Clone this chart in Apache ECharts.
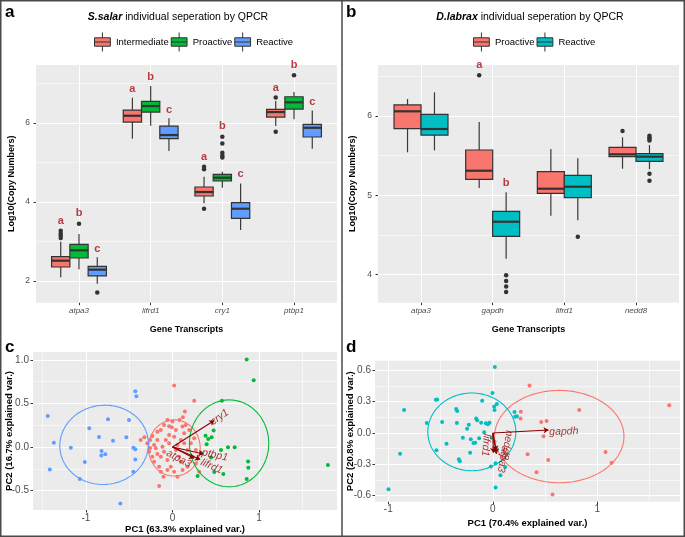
<!DOCTYPE html>
<html><head><meta charset="utf-8">
<script src="https://cdn.jsdelivr.net/npm/echarts@6/dist/echarts.min.js"></script>
<style>html,body{margin:0;padding:0;background:#fff}#c{width:685px;height:537px}</style>
</head><body><div id="c"></div>
<script>
// ---------- DATA ----------
const genesA = ['atpa3','lifrd1','cry1','ptbp1'];
const groupsA = ['Intermediate','Proactive','Reactive'];
// [geneIndex, lowerWhisker, Q1, median, Q3, upperWhisker]
const boxIntermediateA = [[0,2.094,2.354,2.514,2.615,2.995],[1,5.60,6.025,6.185,6.329,6.64],[2,3.967,4.152,4.253,4.38,4.64],[3,5.924,6.152,6.278,6.347,6.557]];
const boxProactiveA    = [[0,2.296,2.582,2.777,2.929,3.19],[1,5.93,6.278,6.43,6.549,6.937],[2,4.362,4.532,4.615,4.70,4.767],[3,6.094,6.354,6.524,6.666,6.785]];
const boxReactiveA     = [[0,1.93,2.127,2.286,2.372,2.6],[1,5.29,5.603,5.696,5.924,6.12],[2,3.29,3.587,3.83,3.982,4.47],[3,5.35,5.646,5.88,5.967,6.32]];
// outliers [geneIndex, value]
const outIntermediateA = [[0,3.09],[0,3.15],[0,3.2],[0,3.27],[2,4.83],[2,4.89],[2,3.83],[3,6.65],[3,5.78]];
const outProactiveA    = [[0,3.45],[2,5.13],[2,5.18],[2,5.25],[2,5.48],[2,5.65],[3,7.21]];
const outReactiveA     = [[0,1.71]];
// significance letters [geneIndex, groupIndex, value, letter]
const lettersA = [[0,0,3.52,'a'],[0,1,3.73,'b'],[0,2,2.81,'c'],[1,0,6.87,'a'],[1,1,7.17,'b'],[1,2,6.32,'c'],
                  [2,0,5.13,'a'],[2,1,5.92,'b'],[2,2,4.70,'c'],[3,0,6.90,'a'],[3,1,7.47,'b'],[3,2,6.54,'c']];
const yTicksA = [2,4,6];
const yMinorA = [3,5,7];

const genesB = ['atpa3','gapdh','lifrd1','nedd8'];
const groupsB = ['Proactive','Reactive'];
const boxProactiveB = [[0,5.542,5.84,6.059,6.139,6.214],[1,5.092,5.202,5.31,5.571,5.924],[2,4.743,5.025,5.083,5.298,5.584],[3,5.335,5.487,5.517,5.605,5.731]];
const boxReactiveB  = [[0,5.567,5.76,5.836,6.021,6.299],[1,4.20,4.483,4.667,4.798,5.038],[2,4.685,4.97,5.108,5.252,5.467],[3,5.328,5.429,5.487,5.525,5.634]];
const outProactiveB = [[1,6.513],[3,5.811]];
const outReactiveB  = [[1,3.991],[1,3.92],[1,3.85],[1,3.78],[2,4.478],[3,5.752],[3,5.73],[3,5.71],[3,5.69],[3,5.272],[3,5.184]];
const lettersB = [[1,0,6.647,'a'],[1,1,5.151,'b']];
const yTicksB = [4,5,6];
const yMinorB = [4.5,5.5,6.5];

// PCA panel c (S.salar)
const pcaIntermediateC = [[0.019,0.705],[0.251,0.529],[0.143,0.406],[0.12,0.341],[0.081,0.31],[-0.097,0.253],[-0.039,0.238],[-0.008,0.226],
  [-0.135,0.195],[-0.174,0.176],[-0.232,0.126],[-0.259,0.08],[-0.324,0.111],[-0.367,0.08],[-0.212,0.023],[-0.259,-0.011],[-0.27,-0.054],
  [-0.174,-0.08],[-0.135,-0.111],[-0.212,-0.169],[-0.154,-0.226],[-0.058,-0.149],[-0.019,-0.226],[0.019,-0.284],[0.058,-0.341],
  [-0.154,-0.448],[-0.104,-0.341],[0.097,0.08],[0.135,0.157],[0.154,0.253],[0.193,0.195],[0.212,0.042],[0.232,-0.111],[0.27,-0.188],
  [0.174,-0.226],[0.097,-0.169],[-0.077,0.08],[-0.039,0.138],[0.039,0.195],[-0.116,0.004],[-0.097,-0.054],[0.039,-0.034],[0.077,-0.111],
  [0.174,-0.034],[0.251,0.1],[-0.174,0.08],[-0.058,0.31],[0,0.291],[0.116,0.234],[-0.232,-0.111],[0.309,-0.284],[0.27,-0.034],
  [0.135,0.042],[-0.29,0.042],[0.019,0.119],[-0.039,0.042],[0.058,0.023],[-0.193,-0.015],[-0.058,-0.264],[0.116,-0.264],[-0.135,-0.284]];
const pcaProactiveC = [[0.857,1.004],[0.938,0.766],[0.571,0.529],[0.475,0.188],[0.382,0.13],[0.413,0.092],[0.452,0.111],[0.394,0.031],
  [0.641,-0.004],[0.718,-0.004],[0.56,-0.034],[0.444,-0.119],[0.483,-0.287],[0.587,-0.31],[0.873,-0.165],[0.876,-0.238],[0.857,-0.368],
  [1.795,-0.207],[0.328,-0.07],[0.29,-0.333]];
const pcaReactiveC = [[-1.44,0.356],[-1.37,0.05],[-1.417,-0.257],[-1.174,-0.008],[-1.012,-0.172],[-1.07,-0.368],[-0.961,0.215],[-0.849,0.115],
  [-0.745,0.318],[-0.819,-0.046],[-0.822,-0.096],[-0.776,-0.084],[-0.687,0.073],[-0.533,0.111],[-0.502,0.31],[-0.429,0.64],[-0.417,0.582],
  [-0.452,-0.008],[-0.429,-0.027],[-0.429,-0.142],[-0.452,-0.284],[-0.602,-0.648]];
// ellipses [cx, cy, rx, ry, angleDeg]
const ellipsesC = {Intermediate:[0.021,-0.011,0.299,0.322,0], Proactive:[0.654,0.042,0.458,0.498,0], Reactive:[-0.79,0.025,0.512,0.454,6]};
// loadings [name, x, y]
const arrowsC = [['cry1',0.483,0.303],['ptbp1',0.359,-0.08],['lifrd1',0.32,-0.142],['atpa3',0.251,-0.13]];
const arrowLabelC = [['cry1',0.544,0.341,35],['ptbp1',0.49,-0.092,-12],['lifrd1',0.452,-0.222,-24],['atpa3',0.073,-0.134,-28]];
const xTicksC = [-1,0,1], xMinorC = [-1.5,-0.5,0.5,1.5];
const yTicksC = [-0.5,0,0.5,1.0], yMinorC = [-0.25,0.25,0.75];

// PCA panel d (D.labrax)
const pcaReactiveD = [[0.019,0.632],[-0.003,0.383],[-0.102,0.31],[0.013,0.255],[0.038,0.278],[0.016,0.22],[-0.533,0.322],[-0.545,0.319],
  [-0.849,0.22],[-0.351,0.23],[-0.341,0.211],[-0.485,0.105],[-0.632,0.096],[-0.344,0.096],[-0.23,0.08],[-0.16,0.14],[-0.15,0.121],
  [-0.112,0.099],[-0.067,0.093],[-0.048,0.083],[-0.032,0.099],[-0.246,0.041],[-0.083,0.006],[-0.287,-0.045],[-0.443,-0.102],
  [-0.211,-0.061],[-0.185,-0.096],[-0.169,-0.093],[-0.131,-0.051],[-0.217,-0.188],[-0.539,-0.166],[-0.887,-0.198],[-0.325,-0.252],
  [-0.316,-0.271],[-0.998,-0.539],[-0.01,-0.045],[0.016,-0.083],[0.038,-0.156],[-0.019,-0.322],[0.026,-0.29],[0.073,-0.405],
  [0.026,-0.523],[0.118,-0.326],[0.207,0.201],[0.214,0.156],[0.23,0.16]];
const pcaProactiveD = [[0.351,0.456],[0.268,0.204],[0.265,0.14],[0.463,0.105],[0.514,0.115],[0.826,0.22],[1.687,0.265],[0.485,-0.032],
  [0.332,-0.204],[0.53,-0.259],[0.418,-0.377],[0.571,-0.59],[1.078,-0.182],[1.136,-0.284]];
const ellipsesD = {Proactive:[0.635,-0.034,0.619,0.442,0], Reactive:[-0.201,0.011,0.421,0.372,0]};
const arrowsD = [['gapdh',0.533,0.029],['lifrd1',0.005,-0.19],['nedd8',0.03,-0.17],['atpa3',0.035,-0.2]];
const arrowLabelD = [['gapdh',0.679,0.013,2],['lifrd1',-0.067,-0.115,-95],['nedd8',0.134,-0.115,-100],['atpa3',0.096,-0.252,-100]];
const xTicksD = [-1,0,1], xMinorD = [-0.5,0.5,1.5];
const yTicksD = [-0.6,-0.3,0,0.3,0.6], yMinorD = [-0.45,-0.15,0.15,0.45];

// ---------- STYLE ----------
const FONT = '"Liberation Sans", Arial, Helvetica, sans-serif';
const colA = ['#F8766D','#00BA38','#619CFF'];
const colB = ['#F8766D','#00BFC4'];
const DARKRED = '#8B0000';
const LETTER = '#a50f15';
const BOXICON = 'path://M1,5H16V13H1Z M8.5,0V5 M8.5,13V18 M1,9H16';

function boxSeries(name, data, color, offset, width, xi, yi) {
  return {type:'custom', name, xAxisIndex:xi, yAxisIndex:yi, data, itemStyle:{color}, z:3, silent:true,
    renderItem:(params, api) => {
      const g = api.value(0) + offset;
      const lo = api.value(1), q1 = api.value(2), md = api.value(3), q3 = api.value(4), hi = api.value(5);
      const tl = api.coord([g - width/2, q3]), br = api.coord([g + width/2, q1]);
      const ph = api.coord([g, hi]), pl = api.coord([g, lo]), pm = api.coord([g, md]);
      const st = {stroke:'#3a3a3a', lineWidth:1.2};
      return {type:'group', children:[
        {type:'line', shape:{x1:ph[0], y1:ph[1], x2:ph[0], y2:tl[1]}, style:st},
        {type:'line', shape:{x1:pl[0], y1:pl[1], x2:pl[0], y2:br[1]}, style:st},
        {type:'rect', shape:{x:tl[0], y:tl[1], width:br[0]-tl[0], height:br[1]-tl[1]}, style:{fill:color, stroke:'#333', lineWidth:1.2}},
        {type:'line', shape:{x1:tl[0], y1:pm[1], x2:br[0], y2:pm[1]}, style:{stroke:'#333', lineWidth:2.2}}
      ]};
    }};
}
function outlierSeries(data, offset, xi, yi) {
  return {type:'scatter', xAxisIndex:xi, yAxisIndex:yi, data:data.map(d => [d[0] + offset, d[1]]),
    symbolSize:4.5, itemStyle:{color:'#333', opacity:1}, z:4, silent:true};
}
function letterSeries(data, offsets, xi, yi) {
  return {type:'scatter', xAxisIndex:xi, yAxisIndex:yi, clip:false, silent:true, z:6,
    data:data.map(d => [d[0] + offsets[d[1]], d[2], d[3]]), symbolSize:0.1, itemStyle:{color:'transparent'},
    label:{show:true, position:'inside', formatter:p => p.data[2], color:LETTER, fontWeight:'bold', fontSize:11, fontFamily:FONT}};
}
function pointSeries(data, color, xi, yi) {
  return {type:'scatter', xAxisIndex:xi, yAxisIndex:yi, data, symbolSize:4, itemStyle:{color, opacity:1}, z:3, silent:true};
}
function ellipseSeries(e, color, xi, yi) {
  return {type:'custom', xAxisIndex:xi, yAxisIndex:yi, data:[e], z:4, silent:true, clip:false,
    renderItem:(params, api) => {
      const c = api.coord([api.value(0), api.value(1)]);
      const s = api.size([api.value(2), api.value(3)]);
      const a = api.value(4) * Math.PI / 180;
      const pts = [];
      for (let i = 0; i <= 120; i++) {
        const t = i / 120 * 2 * Math.PI;
        const ex = s[0] * Math.cos(t), ey = s[1] * Math.sin(t);
        pts.push([c[0] + ex*Math.cos(a) - ey*Math.sin(a), c[1] - (ex*Math.sin(a) + ey*Math.cos(a))]);
      }
      return {type:'polyline', shape:{points:pts}, style:{stroke:color, fill:'none', lineWidth:1.1}};
    }};
}
function arrowSeries(arrows, xi, yi) {
  return {type:'lines', coordinateSystem:'cartesian2d', xAxisIndex:xi, yAxisIndex:yi, silent:true, z:5,
    data:arrows.map(a => ({coords:[[0,0],[a[1],a[2]]]})), symbol:['none','arrow'], symbolSize:5,
    lineStyle:{color:DARKRED, width:1.1, opacity:1, curveness:0}};
}
function arrowLabelSeries(labels, xi, yi) {
  return labels.map(l => ({type:'scatter', xAxisIndex:xi, yAxisIndex:yi, silent:true, clip:false, z:6,
    data:[[l[1], l[2]]], symbolSize:0.1, itemStyle:{color:'transparent'},
    label:{show:true, position:'inside', formatter:l[0], rotate:l[3], color:DARKRED, fontStyle:'italic', fontSize:10.5, fontFamily:FONT}}));
}

function mainAxis(gi, min, max, ticks, fmt, opts) {
  return Object.assign({type:'value', gridIndex:gi, min, max,
    axisLine:{show:false, onZero:false},
    axisTick:{show:true, length:2.5, lineStyle:{color:'#333', width:1}, customValues:ticks},
    axisLabel:{show:true, customValues:ticks, formatter:fmt, color:'#4D4D4D', fontSize:8.5, fontFamily:FONT, margin:6},
    splitLine:{show:true, lineStyle:{color:'#ffffff', width:1.1}},
    nameMoveOverlap:false,
    nameLocation:'middle', nameTextStyle:{fontWeight:'bold', fontSize:9, fontFamily:FONT, color:'#000'}}, opts || {});
}
function minorAxis(gi, min, max, ticks, pos) {
  return {type:'value', gridIndex:gi, min, max, position:pos,
    axisLine:{show:false, onZero:false}, axisTick:{show:false, customValues:ticks}, axisLabel:{show:false, customValues:ticks},
    splitLine:{show:true, lineStyle:{color:'#ffffff', width:0.55}}};
}
const gridBox = {show:true, backgroundColor:'#EBEBEB', borderWidth:0, containLabel:false, outerBoundsMode:'none'};

const offA = [-0.255, 0, 0.255];
const offB = [-0.188, 0.188];

const xFmt = genes => (v => genes[Math.round(v)]);
const f1 = v => v.toFixed(1);
const f0 = v => String(Math.round(v));

const option = {
  animation:false,
  backgroundColor:'#ffffff',
  grid:[
    Object.assign({left:36, top:65, width:301, height:237.7}, gridBox),
    Object.assign({left:378, top:65, width:301, height:237.7}, gridBox),
    Object.assign({left:33, top:352, width:304, height:158}, gridBox),
    Object.assign({left:375, top:360.7, width:305, height:141}, gridBox)
  ],
  xAxis:[
    mainAxis(0, -0.6, 3.6, [0,1,2,3], xFmt(genesA), {name:'Gene Transcripts', nameGap:22,
      axisLabel:{customValues:[0,1,2,3], formatter:xFmt(genesA), color:'#4D4D4D', fontSize:8, fontStyle:'italic', fontFamily:FONT, margin:4}}),
    mainAxis(1, -0.6, 3.6, [0,1,2,3], xFmt(genesB), {name:'Gene Transcripts', nameGap:22,
      axisLabel:{customValues:[0,1,2,3], formatter:xFmt(genesB), color:'#4D4D4D', fontSize:8, fontStyle:'italic', fontFamily:FONT, margin:4}}),
    mainAxis(2, -1.611, 1.90, xTicksC, f0, {name:'PC1 (63.3% explained var.)', nameGap:14,
      axisLabel:{customValues:xTicksC, formatter:f0, color:'#4D4D4D', fontSize:10, fontFamily:FONT, margin:3},
      nameTextStyle:{fontWeight:'bold', fontSize:9.5, fontFamily:FONT, color:'#000'}}),
    minorAxis(2, -1.611, 1.90, xMinorC, 'top'),
    mainAxis(3, -1.127, 1.79, xTicksD, f0, {name:'PC1 (70.4% explained var.)', nameGap:17,
      axisLabel:{customValues:xTicksD, formatter:f0, color:'#4D4D4D', fontSize:10, fontFamily:FONT, margin:3},
      nameTextStyle:{fontWeight:'bold', fontSize:9.5, fontFamily:FONT, color:'#000'}}),
    minorAxis(3, -1.127, 1.79, xMinorD, 'top')
  ],
  yAxis:[
    mainAxis(0, 1.45, 7.47, yTicksA, f0, {name:'Log10(Copy Numbers)', nameGap:20}),
    minorAxis(0, 1.45, 7.47, yMinorA, 'right'),
    mainAxis(1, 3.646, 6.643, yTicksB, f0, {name:'Log10(Copy Numbers)', nameGap:21}),
    minorAxis(1, 3.646, 6.643, yMinorB, 'right'),
    mainAxis(2, -0.722, 1.089, yTicksC, f1, {name:'PC2 (16.7% explained var.)', nameGap:19,
      axisLabel:{customValues:yTicksC, formatter:f1, color:'#4D4D4D', fontSize:10, fontFamily:FONT, margin:4},
      nameTextStyle:{fontWeight:'bold', fontSize:9.5, fontFamily:FONT, color:'#000'}}),
    minorAxis(2, -0.722, 1.089, yMinorC, 'right'),
    mainAxis(3, -0.658, 0.6925, yTicksD, f1, {name:'PC2 (20.8% explained var.)', nameGap:20,
      axisLabel:{customValues:yTicksD, formatter:f1, color:'#4D4D4D', fontSize:10, fontFamily:FONT, margin:4},
      nameTextStyle:{fontWeight:'bold', fontSize:9.5, fontFamily:FONT, color:'#000'}}),
    minorAxis(3, -0.658, 0.6925, yMinorD, 'right')
  ],
  legend:[
    {left:94, top:32, itemWidth:17, itemHeight:19, itemGap:2, padding:0, selectedMode:false,
     data:groupsA.map((n,i) => ({name:n, icon:BOXICON, itemStyle:{color:colA[i], borderColor:'#333', borderWidth:1}})),
     textStyle:{fontSize:9.5, color:'#000', fontFamily:FONT}},
    {left:473, top:32, itemWidth:17, itemHeight:19, itemGap:2, padding:0, selectedMode:false,
     data:groupsB.map((n,i) => ({name:n, icon:BOXICON, itemStyle:{color:colB[i], borderColor:'#333', borderWidth:1}})),
     textStyle:{fontSize:9.5, color:'#000', fontFamily:FONT}}
  ],
  graphic:[
    {type:'rect', shape:{x:0.75, y:0.75, width:683.5, height:535.5}, style:{fill:'none', stroke:'#4a4a4a', lineWidth:1.5}, silent:true},
    {type:'line', shape:{x1:342, y1:0, x2:342, y2:537}, style:{stroke:'#4a4a4a', lineWidth:1.5}, silent:true},
    {type:'text', x:178, y:17, silent:true, style:{text:'{bi|S.salar} individual seperation by QPCR', align:'center', verticalAlign:'middle',
      fontSize:10.5, fontFamily:FONT, fill:'#000', rich:{bi:{fontWeight:'bold', fontStyle:'italic', fontSize:10.5, fontFamily:FONT, fill:'#000'}}}},
    {type:'text', x:530, y:17, silent:true, style:{text:'{bi|D.labrax} individual seperation by QPCR', align:'center', verticalAlign:'middle',
      fontSize:10.5, fontFamily:FONT, fill:'#000', rich:{bi:{fontWeight:'bold', fontStyle:'italic', fontSize:10.5, fontFamily:FONT, fill:'#000'}}}},
    {type:'text', x:5, y:12, silent:true, style:{text:'a', align:'left', verticalAlign:'middle', fontSize:17, fontWeight:'bold', fontFamily:FONT, fill:'#000'}},
    {type:'text', x:346, y:12, silent:true, style:{text:'b', align:'left', verticalAlign:'middle', fontSize:17, fontWeight:'bold', fontFamily:FONT, fill:'#000'}},
    {type:'text', x:5, y:347, silent:true, style:{text:'c', align:'left', verticalAlign:'middle', fontSize:17, fontWeight:'bold', fontFamily:FONT, fill:'#000'}},
    {type:'text', x:346, y:347, silent:true, style:{text:'d', align:'left', verticalAlign:'middle', fontSize:17, fontWeight:'bold', fontFamily:FONT, fill:'#000'}}
  ],
  series:[
    // panel a
    boxSeries('Intermediate', boxIntermediateA, colA[0], offA[0], 0.255, 0, 0),
    boxSeries('Proactive', boxProactiveA, colA[1], offA[1], 0.255, 0, 0),
    boxSeries('Reactive', boxReactiveA, colA[2], offA[2], 0.255, 0, 0),
    outlierSeries(outIntermediateA, offA[0], 0, 0),
    outlierSeries(outProactiveA, offA[1], 0, 0),
    outlierSeries(outReactiveA, offA[2], 0, 0),
    letterSeries(lettersA, offA, 0, 0),
    // panel b
    boxSeries('Proactive', boxProactiveB, colB[0], offB[0], 0.377, 1, 2),
    boxSeries('Reactive', boxReactiveB, colB[1], offB[1], 0.377, 1, 2),
    outlierSeries(outProactiveB, offB[0], 1, 2),
    outlierSeries(outReactiveB, offB[1], 1, 2),
    letterSeries(lettersB, offB, 1, 2),
    // panel c
    pointSeries(pcaIntermediateC, colA[0], 2, 4),
    pointSeries(pcaProactiveC, colA[1], 2, 4),
    pointSeries(pcaReactiveC, colA[2], 2, 4),
    ellipseSeries(ellipsesC.Intermediate, colA[0], 2, 4),
    ellipseSeries(ellipsesC.Proactive, colA[1], 2, 4),
    ellipseSeries(ellipsesC.Reactive, colA[2], 2, 4),
    arrowSeries(arrowsC, 2, 4),
    ...arrowLabelSeries(arrowLabelC, 2, 4),
    // panel d
    pointSeries(pcaProactiveD, colB[0], 4, 6),
    pointSeries(pcaReactiveD, colB[1], 4, 6),
    ellipseSeries(ellipsesD.Proactive, colB[0], 4, 6),
    ellipseSeries(ellipsesD.Reactive, colB[1], 4, 6),
    arrowSeries(arrowsD, 4, 6),
    ...arrowLabelSeries(arrowLabelD, 4, 6)
  ]
};
const chart = echarts.init(document.getElementById('c'), null, {renderer:'canvas'});
chart.setOption(option);
</script>
</body></html>
